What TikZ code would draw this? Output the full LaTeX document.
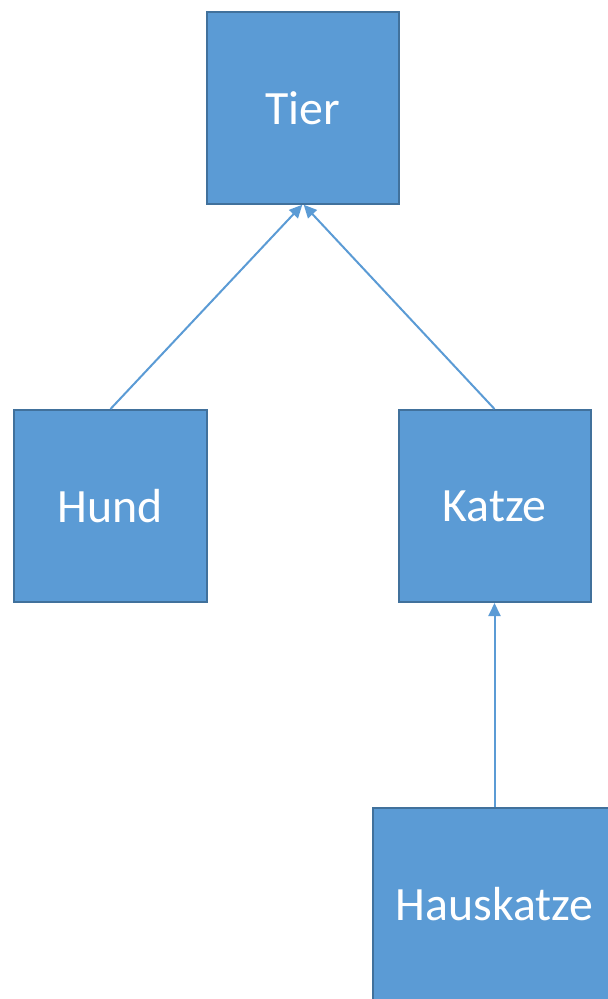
\documentclass[tikz,border=0pt]{standalone}
\usepackage{fontspec}
\setmainfont{Carlito}
\usetikzlibrary{arrows.meta}
\definecolor{boxfill}{HTML}{5B9BD5}
\definecolor{boxline}{HTML}{41719C}
\tikzset{
  klasse/.style={draw=boxline, line width=2bp, fill=boxfill, text=white,
    minimum width=192bp, minimum height=192bp, inner sep=0pt,
    font=\fontsize{48pt}{52pt}\selectfont},
  pfeil/.style={draw=boxfill, line width=2bp,
    -{Triangle[length=13bp,width=12bp]}, shorten >=1bp}
}
\begin{document}
\begin{tikzpicture}[x=1bp,y=-1bp]
\useasboundingbox (0,0) rectangle (608,999);
\clip (0,0) rectangle (608,999);
\node[klasse] (tier) at (303,108) {Tier};
\node[klasse] (hund) at (110.5,506) {Hund};
\node[klasse] (katze) at (494.5,506) {Katze};
\node[klasse, minimum width=244bp] (haus) at (494.5,904) {Hauskatze};
\coordinate (tb) at (303,204);
\coordinate (kb) at (494.5,602);
\draw[pfeil] (hund.north) -- (tb);
\draw[pfeil] (katze.north) -- (tb);
\draw[pfeil] (haus.north) -- (kb);
\end{tikzpicture}
\end{document}
